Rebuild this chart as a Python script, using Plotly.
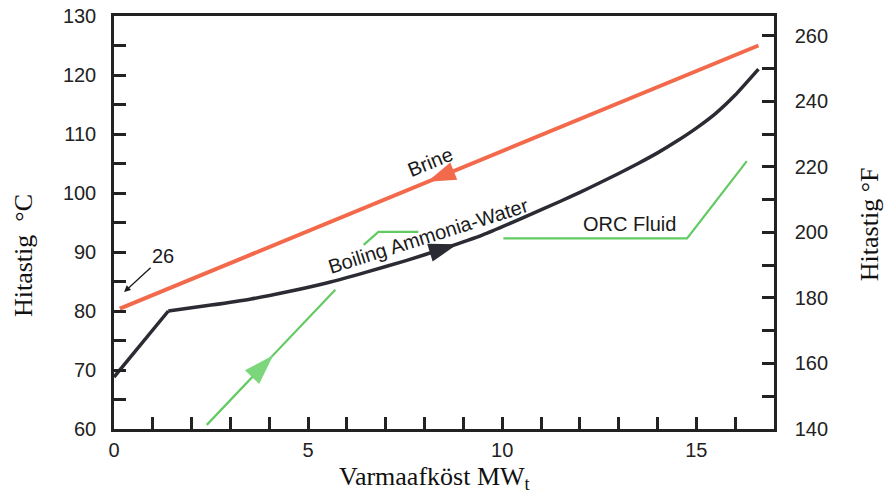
import plotly.graph_objects as go

# ---- data ----
brine_x = [0.15, 16.6]
brine_y = [80.4, 125.0]

ammonia_x = [0.0, 1.4, 2.5, 3.5, 4.5, 5.5, 6.5, 7.5, 8.5, 9.5, 10.5, 11.5, 12.0, 12.5, 13.0,
             13.5, 14.0, 14.5, 15.0, 15.5, 16.0, 16.6]
ammonia_y = [68.8, 80.0, 81.0, 82.0, 83.3, 84.8, 86.6, 88.5, 90.6, 92.9, 95.7, 98.6, 100.1, 101.7, 103.3,
             105.0, 106.8, 108.8, 111.0, 113.5, 116.6, 121.0]
kink = 1  # index where the straight start ends and the smooth part begins

orc_x = [2.39, 5.7, None, 6.43, 6.81, 7.84, None, 10.03, 14.76, 16.3]
orc_y = [60.7, 83.6, None, 91.2, 93.4, 93.4, None, 92.3, 92.3, 105.4]

# direction arrowheads: [tail, tip] on each line
brine_arrow_x = [8.9, 8.07]
brine_arrow_y = [104.1, 101.9]
ammonia_arrow_x = [8.0, 8.84]
ammonia_arrow_y = [89.6, 91.3]
orc_arrow_x = [3.5, 4.1]
orc_arrow_y = [68.4, 72.5]

x_ticks = [0, 5, 10, 15]
c_ticks = [60, 70, 80, 90, 100, 110, 120, 130]
f_ticks = [140, 160, 180, 200, 220, 240, 260]

RED = "#F26A4B"
BLACK = "#2B2B33"
GREEN = "#62CA62"
AX = "#222222"
SANS = "Liberation Sans, Arial, sans-serif"
SERIF = "Liberation Serif, Times New Roman, serif"

fig = go.Figure()

fig.add_trace(go.Scatter(x=brine_x, y=brine_y, mode="lines",
                         line=dict(color=RED, width=4), hoverinfo="skip"))
fig.add_trace(go.Scatter(x=ammonia_x[:kink + 1], y=ammonia_y[:kink + 1], mode="lines",
                         line=dict(color=BLACK, width=3.5), hoverinfo="skip"))
fig.add_trace(go.Scatter(x=ammonia_x[kink:], y=ammonia_y[kink:], mode="lines",
                         line=dict(color=BLACK, width=3.5, shape="spline", smoothing=0.5),
                         hoverinfo="skip"))
fig.add_trace(go.Scatter(x=orc_x, y=orc_y, mode="lines", connectgaps=False,
                         line=dict(color=GREEN, width=2.2), hoverinfo="skip"))


def arrow_trace(xs, ys, color, size):
    return go.Scatter(x=xs, y=ys, mode="markers", hoverinfo="skip",
                      marker=dict(symbol="arrow", angleref="previous", size=[0, size],
                                  color=color, opacity=1, line=dict(width=0)))


fig.add_trace(arrow_trace(brine_arrow_x, brine_arrow_y, RED, 30))
fig.add_trace(arrow_trace(ammonia_arrow_x, ammonia_arrow_y, BLACK, 30))
fig.add_trace(arrow_trace(orc_arrow_x, orc_arrow_y, "#7CD67C", 32))

# secondary axis trace (Fahrenheit equivalent of brine, invisible)
fig.add_trace(go.Scatter(x=brine_x, y=[c * 9 / 5 + 32 for c in brine_y], yaxis="y2",
                         mode="lines", line=dict(width=0), opacity=0,
                         hoverinfo="skip"))

axis_common = dict(showline=True, linecolor=AX, linewidth=2.5, ticks="inside",
                   ticklen=12, tickwidth=2.5, tickcolor=AX, showgrid=False,
                   zeroline=False, automargin=False,
                   tickfont=dict(family=SANS, size=20, color=AX))

fig.update_layout(
    width=885, height=494,
    margin=dict(l=114, r=111, t=16, b=65, autoexpand=False),
    paper_bgcolor="white", plot_bgcolor="white",
    showlegend=False,
    xaxis=dict(range=[0, 17], tickvals=x_ticks, mirror=True,
               minor=dict(dtick=1, ticks="inside", ticklen=12, tickwidth=2.5, tickcolor=AX),
               ticklabelstandoff=1, **axis_common),
    yaxis=dict(range=[60, 130], tickvals=c_ticks,
               minor=dict(dtick=5, tick0=60, ticks="inside", ticklen=12, tickwidth=2.5, tickcolor=AX),
               ticklabelstandoff=11, **axis_common),
    yaxis2=dict(range=[140, 266], tickvals=f_ticks, overlaying="y", side="right", anchor="x",
                minor=dict(dtick=10, tick0=140, ticks="inside", ticklen=12, tickwidth=2.5, tickcolor=AX),
                ticklabelstandoff=14, **axis_common),
)

ann_font = dict(family=SANS, size=20, color="#1a1a1a")
fig.add_annotation(x=8.14, y=105.2, text="Brine", showarrow=False, textangle=-22, font=ann_font)
fig.add_annotation(x=8.09, y=92.7, text="Boiling Ammonia-Water", showarrow=False,
                   textangle=-17.5, font=ann_font)
fig.add_annotation(x=13.27, y=94.8, text="ORC Fluid", showarrow=False, font=ann_font)
fig.add_annotation(x=0.26, y=83.2, text="26", showarrow=True, ax=39, ay=-36,
                   arrowhead=2, arrowsize=1, arrowwidth=1.3, arrowcolor="#1a1a1a",
                   standoff=0, font=ann_font)

title_font = dict(family=SERIF, size=26, color="#111111")
fig.add_annotation(xref="paper", yref="paper", x=-0.138, y=0.421, text="Hitastig  °C",
                   xanchor="center", yanchor="middle",
                   textangle=-90, showarrow=False, font=title_font)
fig.add_annotation(xref="paper", yref="paper", x=1.144, y=0.496, text="Hitastig °F",
                   xanchor="center", yanchor="middle",
                   textangle=-90, showarrow=False, font=title_font)
fig.add_annotation(xref="paper", yref="paper", x=0.486, y=-0.118,
                   xanchor="center", yanchor="middle",
                   text="Varmaafköst MW<sub>t</sub>", showarrow=False, font=title_font)

fig.write_html("out.html", config={"displayModeBar": False},
               post_script="document.body.style.margin='0';")
